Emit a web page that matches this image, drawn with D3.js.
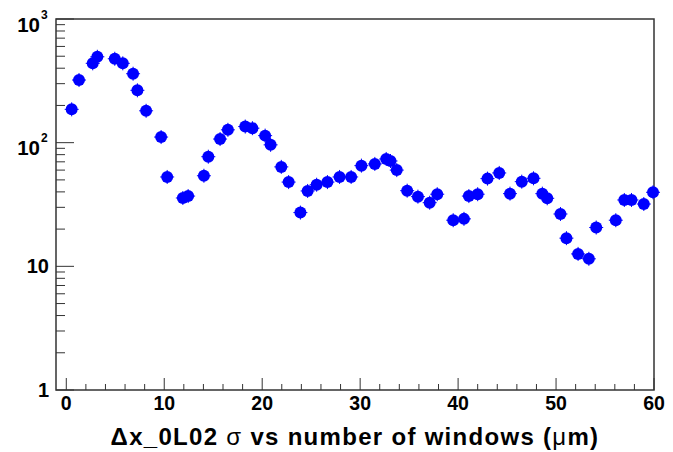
<!DOCTYPE html>
<html lang="en">
<head>
<meta charset="UTF-8">
<title>sigma vs number of windows</title>
<script src="https://cdnjs.cloudflare.com/ajax/libs/d3/7.8.5/d3.min.js"></script>
<style>
  body { margin: 0; background: #fff; }
  text { font-family: "Liberation Sans", Arial, sans-serif; font-weight: bold; fill: #000; }
</style>
</head>
<body>
<div id="chart"></div>
<script>
  // values
  const windows = [0.55, 1.3, 2.7, 3.17, 4.95, 5.77, 6.82, 7.26, 8.15, 9.68,
    10.3, 11.9, 12.44, 14.05, 14.5, 15.7, 16.5, 18.27, 19.0, 20.3,
    20.86, 21.95, 22.7, 23.9, 24.64, 25.56, 26.66, 27.9, 29.08, 30.13,
    31.5, 32.66, 33.1, 33.74, 34.8, 35.9, 37.1, 37.87, 39.5, 40.6,
    41.1, 42.0, 43.0, 44.2, 45.3, 46.5, 47.7, 48.6, 49.1, 50.45,
    51.06, 52.25, 53.35, 54.1, 56.1, 56.97, 57.7, 58.96, 59.9];
  const sigma = [186, 321, 438, 495, 477, 438, 361, 265, 181, 111,
    52.8, 35.7, 37, 54, 77, 107, 127, 135, 131, 114,
    96, 63.7, 48, 27.2, 40.7, 45.7, 48, 52.8, 52.8, 65.2,
    67.3, 73.8, 71.1, 60, 40.9, 36.6, 32.7, 38.3, 23.6, 24.2,
    37, 38.3, 51.2, 56.9, 38.7, 48.4, 51.5, 38.7, 35.5, 26.5,
    16.9, 12.6, 11.5, 20.6, 23.6, 34.4, 34.4, 31.9, 39.7];
  const xMajorTicks = [0, 10, 20, 30, 40, 50, 60];
  const yDecades = [1, 10, 100, 1000];
  const yLabels = [["1", ""], ["10", ""], ["10", "2"], ["10", "3"]];
  const xTitle = ["Δx_0L02 ", "σ", " vs number of windows (", "μ", "m)"];

  const W = 673, H = 452;
  const frame = { left: 56, right: 654, top: 19, bottom: 390 };

  const svg = d3.select("#chart").append("svg")
    .attr("width", W).attr("height", H);

  const x = d3.scaleLinear().domain([-1.05, 60]).range([frame.left, frame.right]);
  const y = d3.scaleLog().domain([1, 1000]).range([frame.bottom, frame.top]);

  const axisColor = "#333";

  // frame
  svg.append("rect")
    .attr("x", frame.left).attr("y", frame.top)
    .attr("width", frame.right - frame.left).attr("height", frame.bottom - frame.top)
    .attr("fill", "none").attr("stroke", axisColor).attr("stroke-width", 1.5);

  // x ticks (inside, on bottom)
  const xMinor = d3.range(0, 61, 2).filter(v => v % 10 !== 0);
  svg.selectAll(".xmaj").data(xMajorTicks).enter().append("line")
    .attr("x1", d => x(d)).attr("x2", d => x(d))
    .attr("y1", frame.bottom).attr("y2", frame.bottom - 12)
    .attr("stroke", axisColor).attr("stroke-width", 1);
  svg.selectAll(".xmin").data(xMinor).enter().append("line")
    .attr("x1", d => x(d)).attr("x2", d => x(d))
    .attr("y1", frame.bottom).attr("y2", frame.bottom - 6)
    .attr("stroke", axisColor).attr("stroke-width", 1);
  svg.selectAll(".xlab").data(xMajorTicks).enter().append("text")
    .attr("x", d => x(d)).attr("y", 410)
    .attr("text-anchor", "middle").attr("font-size", 19.5)
    .text(d => d);

  // y ticks (inside, on left)
  const yMinor = [];
  [1, 10, 100].forEach(dec => { for (let k = 2; k <= 9; k++) yMinor.push(dec * k); });
  svg.selectAll(".ymaj").data(yDecades).enter().append("line")
    .attr("x1", frame.left).attr("x2", frame.left + 18)
    .attr("y1", d => y(d)).attr("y2", d => y(d))
    .attr("stroke", axisColor).attr("stroke-width", 1);
  svg.selectAll(".ymin").data(yMinor).enter().append("line")
    .attr("x1", frame.left).attr("x2", frame.left + 9)
    .attr("y1", d => y(d)).attr("y2", d => y(d))
    .attr("stroke", axisColor).attr("stroke-width", 1);

  yDecades.forEach((d, i) => {
    const [base, sup] = yLabels[i];
    if (sup) {
      svg.append("text")
        .attr("x", 40).attr("y", y(d) + 12.5)
        .attr("text-anchor", "end").attr("font-size", 20.5)
        .text(base);
      svg.append("text")
        .attr("x", 41).attr("y", y(d) - 0.5)
        .attr("font-size", 12)
        .text(sup);
    } else {
      svg.append("text")
        .attr("x", 49).attr("y", y(d) + 7)
        .attr("text-anchor", "end").attr("font-size", 20)
        .text(base);
    }
  });

  // axis title
  const title = svg.append("text")
    .attr("x", (frame.left + frame.right) / 2).attr("y", 445)
    .attr("text-anchor", "middle").attr("font-size", 24)
    .attr("letter-spacing", 1.3);
  xTitle.forEach(part => {
    const t = title.append("tspan").text(part);
    if (part === "σ" || part === "μ") t.attr("font-weight", "normal");
  });

  // markers with small error stubs
  const pts = windows.map((w, i) => ({ w, s: sigma[i] }));
  const g = svg.append("g");
  g.selectAll(".eh").data(pts).enter().append("line")
    .attr("x1", d => x(d.w) - 7).attr("x2", d => x(d.w) + 7)
    .attr("y1", d => y(d.s)).attr("y2", d => y(d.s))
    .attr("stroke", "#0000ff").attr("stroke-width", 1);
  g.selectAll(".ev").data(pts).enter().append("line")
    .attr("x1", d => x(d.w)).attr("x2", d => x(d.w))
    .attr("y1", d => y(d.s) - 7).attr("y2", d => y(d.s) + 7)
    .attr("stroke", "#0000ff").attr("stroke-width", 1);
  g.selectAll("circle").data(pts).enter().append("circle")
    .attr("cx", d => x(d.w)).attr("cy", d => y(d.s))
    .attr("r", 6)
    .attr("fill", "#0000ff");
</script>
</body>
</html>
